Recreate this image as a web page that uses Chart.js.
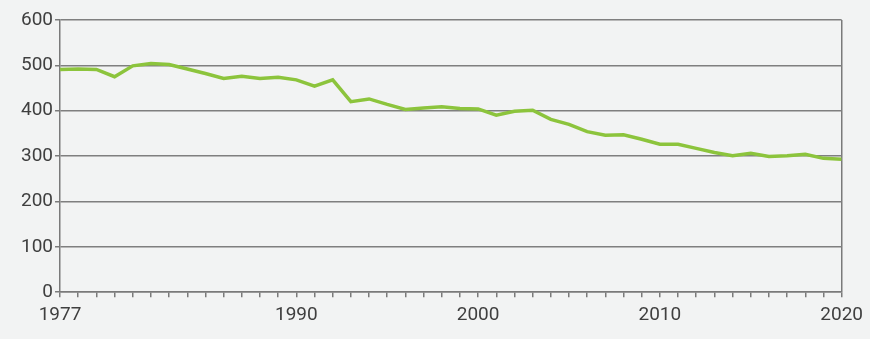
<!DOCTYPE html>
<html>
<head>
<meta charset="utf-8">
<script src="https://cdn.jsdelivr.net/npm/chart.js@4/dist/chart.umd.min.js"></script>
<style>
    html, body { margin: 0; padding: 0; background: #ffffff; }
    #wrap { width: 870px; height: 339px; background: #f2f3f3; }
</style>
</head>
<body>
<div id="wrap"><canvas id="lineChart" width="870" height="339"></canvas></div>
<script>
// Data
var years = [1977, 1978, 1979, 1980, 1981, 1982, 1983, 1984, 1985, 1986, 1987, 1988, 1989, 1990,
    1991, 1992, 1993, 1994, 1995, 1996, 1997, 1998, 1999, 2000, 2001, 2002, 2003, 2004, 2005,
    2006, 2007, 2008, 2009, 2010, 2011, 2012, 2013, 2014, 2015, 2016, 2017, 2018, 2019, 2020];
var values = [491, 492, 491, 475, 499, 504, 502, 492, 482, 471, 476, 471, 474, 468,
    454, 468, 420, 426, 414, 403, 406, 409, 405, 404, 390, 399, 401, 381, 370,
    354, 346, 347, 337, 326, 326, 317, 308, 301, 306, 299, 301, 304, 295, 293];
var xTickLabels = [1977, 1990, 2000, 2010, 2020];
var yTicks = [0, 100, 200, 300, 400, 500, 600];

var points = years.map(function(y, i) { return { x: y, y: values[i] }; });

var ctx = document.getElementById('lineChart').getContext('2d');
var lineChart = new Chart(ctx, {
    type: 'line',
    data: {
        datasets: [{
            data: points,
            borderColor: '#8cc43c',
            borderWidth: 3.5,
            pointRadius: 0,
            tension: 0,
            fill: false
        }]
    },
    options: {
        responsive: false,
        animation: false,
        layout: { padding: { top: 20, right: 28, left: 19, bottom: 5 } },
        plugins: {
            legend: { display: false },
            tooltip: { enabled: false }
        },
        scales: {
            x: {
                type: 'linear',
                min: 1977,
                max: 2020,
                afterBuildTicks: function(axis) {
                    axis.ticks = years.map(function(y) { return { value: y }; });
                },
                ticks: {
                    autoSkip: false,
                    maxRotation: 0,
                    padding: 7,
                    color: '#3f3f3f',
                    font: { family: 'Roboto', size: 19 },
                    callback: function(value) {
                        return xTickLabels.indexOf(value) >= 0 ? String(value) : '';
                    }
                },
                grid: {
                    color: function(c) { return c.tick && c.tick.value === 2020 ? '#7a7a7a' : 'rgba(0,0,0,0)'; },
                    tickColor: '#7a7a7a',
                    tickLength: 5,
                    lineWidth: 1.5
                },
                border: { color: '#7a7a7a', width: 1.5 }
            },
            y: {
                min: 0,
                max: 600,
                afterBuildTicks: function(axis) {
                    axis.ticks = yTicks.map(function(v) { return { value: v }; });
                },
                ticks: {
                    padding: 2,
                    color: '#3f3f3f',
                    font: { family: 'Roboto', size: 19 }
                },
                grid: {
                    color: '#7f7f7f',
                    tickColor: '#7a7a7a',
                    tickLength: 5,
                    lineWidth: 1.5
                },
                border: { color: '#7a7a7a', width: 1.5 }
            }
        }
    }
});
</script>
</body>
</html>
